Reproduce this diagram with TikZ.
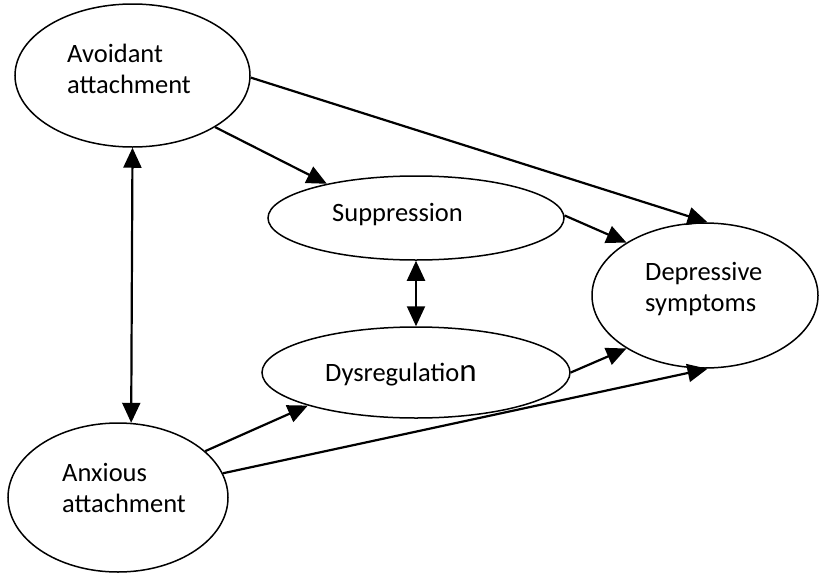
\documentclass[tikz,border=0pt]{standalone}
\usepackage{fontspec}
\setmainfont{Carlito}
\usetikzlibrary{shapes.geometric,arrows.meta}
\begin{document}
\begin{tikzpicture}[x=1pt,y=-1pt,
  oval/.style={draw,ellipse,line width=1.5pt,inner sep=0pt},
  lbl/.style={anchor=base west,inner sep=0pt,font=\fontsize{26.5}{32}\selectfont},
  path/.style={line width=2.2pt,-{Triangle[length=20pt,width=18pt]}},
  both/.style={line width=2.2pt,{Triangle[length=20pt,width=18pt]}-{Triangle[length=20pt,width=18pt]}}]
\useasboundingbox (0,0) rectangle (819,573);
% latent constructs
\node[oval,minimum width=235pt,minimum height=143pt] (av)  at (132.5,75.5) {};
\node[oval,minimum width=220pt,minimum height=149pt] (anx) at (118,497.5) {};
\node[oval,minimum width=296pt,minimum height=84pt]  (sup) at (416,218) {};
\node[oval,minimum width=308pt,minimum height=91pt]  (dys) at (416,372.5) {};
\node[oval,minimum width=226pt,minimum height=145pt] (dep) at (705,295.5) {};
% labels
\node[lbl] (av1) at (67,62) {Avoidant};
\node[lbl] (av2) at (67,93) {attachment};
\node[lbl] (anx1) at (62,481) {Anxious};
\node[lbl] (anx2) at (62,512) {attachment};
\node[lbl] (sup1) at (332,221) {Suppression};
\node[lbl] (dys1) at (325,381) {Dysregulatio{\fontsize{33}{36}\selectfont n}};
\node[lbl] (dep1) at (645,280) {Depressive};
\node[lbl] (dep2) at (645,311) {symptoms};
% paths
\draw[path] (av.-1) -- (dep.88);
\draw[path] (av.-32.5) -- (sup.159);
\draw[path] (sup.1.6) -- (dep.146.7);
\draw[both] (sup.south) -- (dys.north);
\draw[path] (dys.east) -- (dep.214);
\draw[path] (anx.28.4) -- (dys.197.7);
\draw[path] (anx.13.5) -- (dep.272.4);
\draw[both] (av.-90.8) -- (anx.80.9);
\end{tikzpicture}
\end{document}
